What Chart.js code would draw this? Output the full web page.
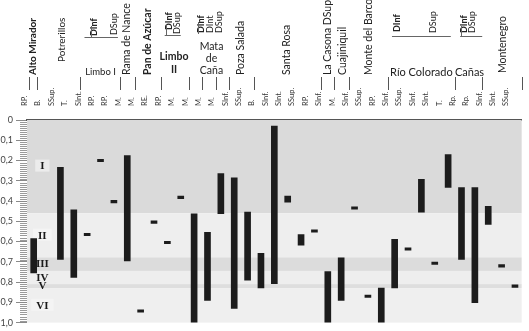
<!DOCTYPE html>
<html>
<head>
<meta charset="utf-8">
<script src="https://cdn.jsdelivr.net/npm/chart.js@4.4.1/dist/chart.umd.min.js"></script>
<style>
html,body{margin:0;padding:0;background:#fff;}
#wrap{width:529px;height:331px;position:relative;}
</style>
</head>
<body>
<div id="wrap"><canvas id="c"></canvas></div>
<script>
// ---- data ----
const categories = ['RP.','B.','SSup.','T.','SInt.','RP.','RP.','M.','M.','RE.','RP.','M.','M.','M.','M.','SInf.','SSup.','B.','SInf.','SInt.','SSup.','RP.','SInf.','M.','SInf.','SSup.','RP.','SInf.','SSup.','SInf.','SInt.','T.','Rp.','Rp.','SInf.','SInt.','SSup.'];
const rangeStart = [0.585,null,0.233,0.444,0.559,0.194,0.397,0.175,0.937,0.498,0.599,0.376,0.463,0.555,0.265,0.285,0.455,0.658,0.030,0.375,0.566,0.542,0.748,0.680,0.428,0.864,0.829,0.589,0.631,0.293,0.701,0.171,0.333,0.333,0.426,0.714,0.814];
const rangeEnd   = [0.755,null,0.688,0.777,0.571,0.206,0.409,0.695,0.949,0.510,0.611,0.388,1.000,0.890,0.462,0.930,0.790,0.829,0.808,0.405,0.618,0.554,1.000,0.890,0.440,0.876,1.000,0.829,0.643,0.455,0.713,0.333,0.688,0.902,0.515,0.726,0.826];
const yTickLabels = ['0','0,1','0,2','0,3','0,4','0,5','0,6','0,7','0,8','0,9','1,0'];
// background zones (value bounds) and zone labels
const zoneFrom  = [0, 0.46, 0.678, 0.745, 0.81, 0.83];
const zoneTo    = [0.46, 0.678, 0.745, 0.81, 0.83, 1.0];
const zoneShade = ['#dadada','#eeeeee','#dcdcdc','#eeeeee','#dedede','#efefef'];
const zoneNames = ['I','II','III','IV','V','VI'];
const zoneNameAt = [0.225, 0.566, 0.707, 0.776, 0.815, 0.912];
// site groups along the top
const groupNames = ['Alto Mirador','Potrerillos','Limbo I','Rama de Nance','Pan de Azúcar','Limbo II','Mata de Caña','Poza Salada','Santa Rosa','La Casona DSup','Cuajiniquil','Monte del Barco','Río Colorado','Cañas','Montenegro'];
const groupCenter = [-0.05, 2.1, 5.0, 6.95, 8.55, 10.5, 13.3, 15.5, 18.9, 22.0, 23.1, 25.05, 29.0, 32.6, 35.05];
const groupSeparators = [-0.35, 0.25, 3.45, 6.45, 7.55, 9.55, 11.6, 12.6, 13.6, 14.6, 16.5, 21.5, 22.5, 23.55, 26.5, 31.5, 33.55, 36.5];

const data = categories.map((c, i) => rangeStart[i] === null ? null : [rangeStart[i], rangeEnd[i]]);

const decorPlugin = {
  id: 'decor',
  beforeDatasetsDraw(chart) {
    const {ctx, chartArea: a, scales: {x, y}} = chart;
    ctx.save();
    for (let i = 0; i < zoneFrom.length; i++) {
      const y0 = y.getPixelForValue(zoneFrom[i]);
      const y1 = y.getPixelForValue(zoneTo[i]);
      ctx.fillStyle = zoneShade[i];
      ctx.fillRect(a.left, y0, a.right - a.left, y1 - y0);
    }
    // zone labels
    ctx.font = 'bold 11px "Liberation Serif", "DejaVu Serif", serif';
    ctx.textAlign = 'center';
    ctx.textBaseline = 'middle';
    const lx = x.getPixelForValue(0.65);
    zoneNames.forEach((n, i) => {
      const py = y.getPixelForValue(zoneNameAt[i]);
      const w = ctx.measureText(n).width + 10;
      if (i === 0 || i === 1 || i === 5) {
        ctx.fillStyle = i === 0 ? '#ececec' : '#f4f4f4';
        ctx.fillRect(lx - w / 2, py - 6, w, 12);
      }
      ctx.fillStyle = '#1a1a1a';
      ctx.fillText(n, lx, py + 1);
    });
    ctx.restore();
  },
  afterDraw(chart) {
    const {ctx, chartArea: a, scales: {x, y}} = chart;
    ctx.save();
    // minor y ticks
    ctx.strokeStyle = '#9a9a9a';
    ctx.lineWidth = 1;
    for (let v = 0; v <= 100; v++) {
      if (v % 10 === 0) continue;
      const py = Math.round(y.getPixelForValue(v / 100)) + 0.5;
      ctx.beginPath();
      ctx.moveTo(a.left - 7, py);
      ctx.lineTo(a.left, py);
      ctx.stroke();
    }
    // separators
    ctx.strokeStyle = '#555';
    groupSeparators.forEach(k => {
      const px = Math.round(x.getPixelForValue(k)) + 0.5;
      ctx.beginPath();
      ctx.moveTo(px, 77);
      ctx.lineTo(px, 90);
      ctx.stroke();
    });
    const rot = (t, k, yb, font) => {
      ctx.save();
      ctx.font = font;
      ctx.translate(x.getPixelForValue(k), yb);
      ctx.rotate(-Math.PI / 2);
      ctx.textAlign = 'left';
      ctx.textBaseline = 'middle';
      ctx.fillText(t, 0, 0);
      ctx.restore();
    };
    const hor = (t, k, yc, font) => {
      ctx.font = font;
      ctx.textAlign = 'center';
      ctx.textBaseline = 'middle';
      ctx.fillText(t, x.getPixelForValue(k), yc);
    };
    const F = '"Lato", "Open Sans", sans-serif';
    ctx.fillStyle = '#222';
    const style = {
      'Alto Mirador': ['r', 'bold 10px ' + F, 75],
      'Potrerillos': ['r', '10px ' + F, 62],
      'Limbo I': ['h', '9.5px ' + F, 72],
      'Rama de Nance': ['r', '10.5px ' + F, 75],
      'Pan de Azúcar': ['r', 'bold 10.5px ' + F, 75],
      'Poza Salada': ['r', '10.5px ' + F, 75],
      'Santa Rosa': ['r', '10.5px ' + F, 75],
      'La Casona DSup': ['r', '10.5px ' + F, 75],
      'Cuajiniquil': ['r', '10.5px ' + F, 75],
      'Monte del Barco': ['r', '10.5px ' + F, 75],
      'Río Colorado': ['h', '11px ' + F, 72],
      'Cañas': ['h', '11px ' + F, 72],
      'Montenegro': ['r', '10.5px ' + F, 73]
    };
    groupNames.forEach((g, i) => {
      const k = groupCenter[i];
      if (g === 'Limbo II') {
        hor('Limbo', k, 57, 'bold 10.5px ' + F);
        hor('II', k, 70, 'bold 10.5px ' + F);
        return;
      }
      if (g === 'Mata de Caña') {
        hor('Mata', k, 47, '10.5px ' + F);
        hor('de', k, 59, '10.5px ' + F);
        hor('Caña', k, 71, '10.5px ' + F);
        return;
      }
      const s = style[g];
      if (s[0] === 'r') rot(g, k, s[2], s[1]);
      else hor(g, k, s[2], s[1]);
    });
    // division sub-labels
    const DF = '9px ' + F, DB = 'bold 9px ' + F;
    rot('DInf', 4.5, 36, DB); rot('DSup', 6.03, 35, DF);
    rot('DInf', 10.1, 30, DB); rot('DSup', 10.75, 34, DF);
    rot('DInf', 12.5, 33, DB); rot('DInt', 13.2, 33, DF); rot('DSup', 13.88, 33, DF);
    rot('DInf', 27.2, 32, DB); rot('DSup', 29.87, 33, DF);
    rot('DInf', 32.2, 33, DB); rot('DSup', 32.78, 33, DF);
    ctx.strokeStyle = '#666';
    const hline = (k0, k1, py) => {
      ctx.beginPath();
      ctx.moveTo(x.getPixelForValue(k0), py + 0.5);
      ctx.lineTo(x.getPixelForValue(k1), py + 0.5);
      ctx.stroke();
    };
    const vline = (k, y0, y1) => {
      const px = Math.round(x.getPixelForValue(k)) + 0.5;
      ctx.beginPath();
      ctx.moveTo(px, y0);
      ctx.lineTo(px, y1);
      ctx.stroke();
    };
    hline(3.8, 6.3, 37); vline(4.25, 26, 37);
    hline(9.8, 11.0, 35); vline(9.9, 24, 35);
    vline(12.3, 22, 34);
    hline(26.8, 31.2, 36);
    hline(31.9, 33.55, 36); vline(32.0, 26, 36);
    ctx.restore();
  }
};

new Chart(document.getElementById('c'), {
  type: 'bar',
  data: {
    labels: categories,
    datasets: [{
      data: data,
      backgroundColor: '#1c1c1c',
      borderWidth: 0,
      barThickness: 6,
      grouped: false
    }]
  },
  options: {
    responsive: true,
    maintainAspectRatio: false,
    animation: false,
    layout: {padding: {left: 0, right: 2, top: 0, bottom: 6}},
    plugins: {legend: {display: false}, tooltip: {enabled: false}},
    scales: {
      x: {
        position: 'top',
        afterFit: s => { s.height = 120; },
        grid: {display: false, drawTicks: false},
        border: {display: true, color: '#555', width: 2},
        ticks: {
          autoSkip: false, minRotation: 90, maxRotation: 90, padding: 14,
          color: '#333', font: {family: 'Lato', size: 7.5}
        }
      },
      y: {
        reverse: true, min: 0, max: 1,
        afterFit: s => { s.width = 27; },
        grid: {drawOnChartArea: false, drawTicks: true, tickLength: 11, color: '#8a8a8a'},
        border: {display: false},
        ticks: {
          stepSize: 0.1, padding: 3, color: '#444',
          font: {family: 'Lato', size: 9},
          callback: (v) => yTickLabels[Math.round(v * 10)]
        }
      }
    }
  },
  plugins: [decorPlugin]
});
</script>
</body>
</html>
